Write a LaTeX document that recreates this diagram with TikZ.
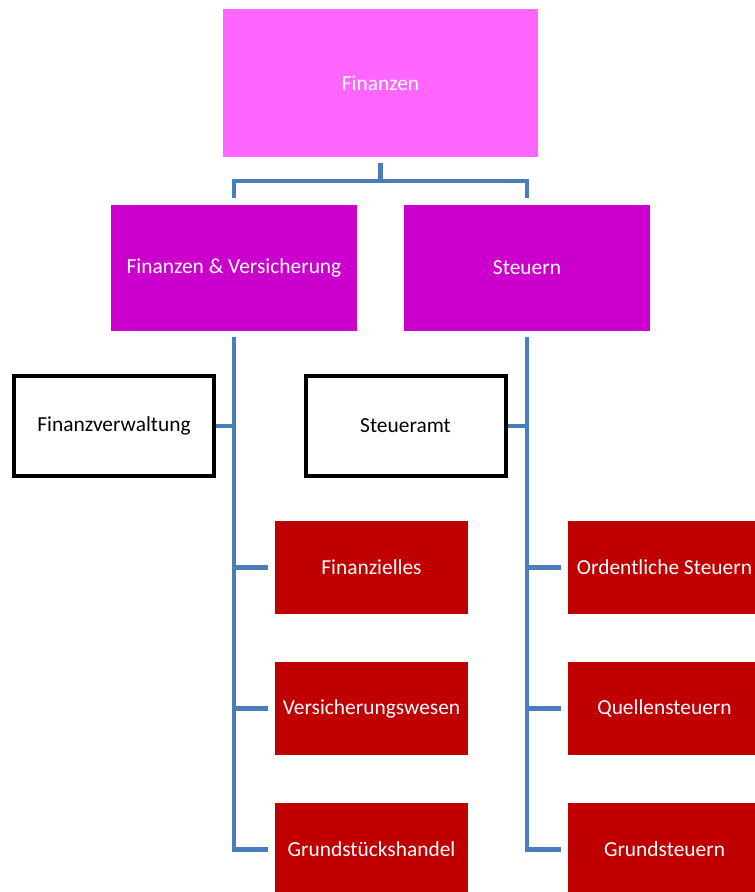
\documentclass[tikz,border=0pt]{standalone}
\usepackage{fontspec}
\setmainfont{Carlito}
\usepackage{xcolor}
\usetikzlibrary{positioning}
\definecolor{topviolet}{HTML}{FF66FF}
\definecolor{midviolet}{HTML}{CC00CC}
\definecolor{leafred}{HTML}{C00000}
\definecolor{linkblue}{HTML}{4A7EBB}

\begin{document}
\begin{tikzpicture}[x=1pt,y=-1pt,
  box/.style={inner sep=0pt,align=center,font=\fontsize{21.4}{25}\selectfont},
  headbox/.style={box,fill=topviolet,text=white,minimum width=315pt,minimum height=148pt},
  midbox/.style={box,fill=midviolet,text=white,minimum width=246pt,minimum height=126pt},
  officebox/.style={box,fill=white,draw=black,line width=4pt,minimum width=200pt,minimum height=100pt},
  leafbox/.style={box,fill=leafred,text=white,minimum width=193pt,minimum height=93pt},
  conn/.style={draw=linkblue,line width=4.5pt,line join=miter}
]
\useasboundingbox (0,0) rectangle (755,892);
\clip (0,0) rectangle (755,892);

\node[headbox] (fin) at (380.5,83) {Finanzen};
\node[midbox] (fv) at (234,268) {Finanzen \& Versicherung};
\node[midbox] (st) at (527,268) {Steuern};

\node[officebox] (fvw) at (114,426) {Finanzverwaltung};
\node[officebox] (sta) at (405.5,426) {Steueramt};

\node[leafbox] (fi) at (371.5,567.5) {Finanzielles};
\node[leafbox] (vw) at (371.5,708.5) {Versicherungswesen};
\node[leafbox] (gh) at (371.5,849.5) {Grundstückshandel};
\node[leafbox] (os) at (664.5,567.5) {Ordentliche Steuern};
\node[leafbox] (qs) at (664.5,708.5) {Quellensteuern};
\node[leafbox] (gs) at (664.5,849.5) {Grundsteuern};

% top level
\draw[conn] ([yshift=-6pt]fin.south) -- ++(0,18) -| ([yshift=7pt]fv.north);
\draw[conn] ([yshift=-6pt]fin.south) -- ++(0,18) -| ([yshift=7pt]st.north);

% Finanzen & Versicherung
\draw[conn] ([yshift=-6pt]fv.south) |- ([xshift=-7pt]gh.west);
\draw[conn] (fvw.east) -- (fvw.east -| fv.south);
\draw[conn] ([xshift=-7pt]fi.west) -- (fi.west -| fv.south);
\draw[conn] ([xshift=-7pt]vw.west) -- (vw.west -| fv.south);

% Steuern
\draw[conn] ([yshift=-6pt]st.south) |- ([xshift=-7pt]gs.west);
\draw[conn] (sta.east) -- (sta.east -| st.south);
\draw[conn] ([xshift=-7pt]os.west) -- (os.west -| st.south);
\draw[conn] ([xshift=-7pt]qs.west) -- (qs.west -| st.south);
\end{tikzpicture}
\end{document}
